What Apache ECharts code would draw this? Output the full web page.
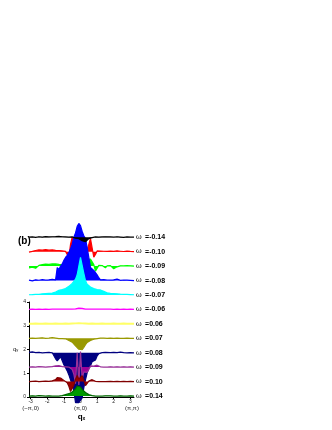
<!DOCTYPE html>
<html>
<head>
<meta charset="utf-8">
<script src="https://cdn.jsdelivr.net/npm/echarts@6/dist/echarts.min.js"></script>
<style>
  html, body { margin: 0; padding: 0; background: #fff; }
  #chart { width: 332px; height: 430px; }
</style>
</head>
<body>
<div id="chart"></div>
<script>
// momentum grid (q_x), shared by every curve
var qx = [-3.1,-2.9,-2.7,-2.5,-2.3,-2.1,-1.9,-1.7,
  -1.6,-1.5,-1.4,-1.3,-1.2,-1.1,-1.0,-0.9,-0.8,-0.7,-0.6,-0.5,-0.4,-0.3,-0.2,-0.1,
  0,0.1,0.2,0.3,0.4,0.5,0.6,0.7,0.8,0.9,1.0,1.1,1.2,1.3,1.4,1.5,1.6,
  1.8,2.0,2.2,2.4,2.6,2.8,3.0,3.22];

// upper panel, negative energies (amplitude about each baseline)
var wm014 = [0,0.02,-0.01,0.03,0.01,0.04,0.02,0.03,
  0.01,0.04,0.02,0.06,0.03,0.03,0.06,0.02,0.04,0.01,-0.03,0.02,-0.06,-0.07,0.03,-0.1,
  -0.14,-0.24,-0.28,-0.31,-0.24,-0.1,0.03,-0.03,0.06,0.02,0.03,0.01,0.03,0.02,0.01,0.03,0.01,
  0.02,0,0.03,0.01,-0.01,0.02,0,0];
var wm010 = [-0.03,0.02,0.08,0.12,0.1,0.14,0.1,0.12,
  0.13,0.09,0.12,0.08,0.1,0.05,0.06,0.02,-0.2,-0.38,0.5,1.0,0.15,0.05,0.08,0.05,
  0.05,0.05,0.06,0.1,0.1,0.2,0.9,0.95,-0.38,-0.2,0.05,0.08,0.04,0.06,0.03,0.05,0.02,
  0.04,0.02,0.05,0.03,0.01,0.04,0.02,0];
var wm009 = [-0.12,-0.08,-0.15,0.05,0.1,0.14,0.12,0.15,
  0.12,0.15,0.1,0.12,0.08,0.1,0.06,0.05,0.04,0.05,0.03,0.05,0.04,0.05,0.05,0.06,
  0.05,0.1,0.15,0.3,0.45,0.42,0.48,0.3,0.1,-0.35,-0.25,0.05,0.02,0.04,-0.05,-0.12,0.02,
  0.03,-0.18,-0.05,0.02,0.01,0.03,0.02,0];
var wm008 = [0.03,-0.02,0.05,0.02,0.06,0.03,0.05,0.08,
  0.03,0.05,0.9,0.75,1.0,1.15,1.4,1.6,1.75,1.95,2.2,2.5,3.0,3.3,3.75,3.95,
  3.8,3.4,3.1,2.9,2.3,1.6,0.9,0.8,0.7,0.55,0.4,0.2,0.05,0.03,0.06,0.02,0.04,
  0.03,0.05,0.1,0.02,0.04,0.03,0.02,0];
var wm007 = [0.02,0.03,0.05,0.05,0.08,0.1,0.12,0.14,
  0.15,0.2,0.3,0.32,0.35,0.38,0.4,0.45,0.5,0.6,0.7,0.8,0.95,1.1,1.4,2.0,
  2.6,2.5,1.5,1.0,0.75,0.65,0.55,0.5,0.45,0.42,0.38,0.36,0.35,0.3,0.25,0.2,0.15,
  0.12,0.1,0.08,0.06,0.05,0.04,0.03,0.02];

// lower panel
var wm006 = [0,0.01,0,0.01,0,0.01,0,0.01,
  0,0.01,0,0.01,0,0.01,0,0.01,0,0.01,0,0.01,0.01,0.02,0.03,0.05,
  0.06,0.04,0.02,0.01,0,0.01,0,0.01,0,0.01,0,0.01,0,0.01,0,0.01,0,
  0.01,0,0.01,0,0.01,0,0.01,0];
var wp006 = [0,0,0.01,0,0,0.01,0,0,
  0,0.01,0,0,0.01,0,0,0.01,0,0,0.01,0.01,0.02,0.02,0.03,0.03,
  0.03,0.02,0.02,0.01,0.01,0,0,0.01,0,0,0.01,0,0,0.01,0,0,0,
  0,0.01,0,0,0.01,0,0,0];
var wp007 = [0,0.01,0,0.01,0.02,0,0.01,0.03,
  0.04,0.01,0,-0.01,0,-0.01,-0.01,-0.02,-0.05,-0.09,-0.12,-0.16,-0.23,-0.32,-0.4,-0.46,
  -0.5,-0.48,-0.38,-0.27,-0.17,-0.12,-0.09,-0.07,-0.04,-0.02,-0.01,0,0.01,0,0.01,0,0,
  0.01,0,0.01,0,0,0.01,0,0];
var wp008 = [0.02,0.04,0.01,0.02,0,0.01,0.02,0,
  0,-0.25,-0.34,-0.3,-0.17,-0.21,-0.5,-0.63,-0.76,-0.93,-1.14,-1.35,-1.6,-2.1,-2.1,-2.1,
  -2.1,-1.9,-1.47,-1.14,-0.84,-0.67,-0.55,-0.38,-0.34,-0.3,-0.13,-0.04,0,0.01,0,0.02,0,
  0.01,0.02,0.01,0.03,0.01,0,0.01,0];
var wp009 = [0,0.01,0,0.02,0.01,0,0.01,0.02,
  0.04,0.05,0.03,0.06,0.04,0.02,0.03,0.01,0.02,0,0.05,-0.1,-0.3,-0.7,0.6,-0.75,
  0.65,-0.5,-0.2,-0.15,-0.22,-0.1,0.05,0.02,0.04,0.03,0.08,0.02,0.01,0.02,0,0.01,0,
  0.01,0,0.01,0,0.01,0,0.01,0];
var wp010 = [0,0.01,0.02,0,0.01,0.02,0.01,0.03,
  0.02,0.08,0.17,0.12,0.15,0.1,0.05,0.03,-0.05,-0.2,-0.42,-0.46,-0.15,0.1,0.25,0.1,
  0.15,0.25,0.05,-0.17,-0.08,0.02,0.05,0.08,0.03,0.01,0.02,0,0.01,0,0.01,0,0,
  0.01,0,0.01,0,0.01,0,0.01,0];
var wp014 = [0,0.01,0,0.02,0.01,0,0.01,0,
  0.01,0,0.01,0,0.01,0.02,0.04,0.06,0.08,0.1,0.13,0.17,0.22,0.3,0.42,0.46,
  0.38,0.28,0.2,0.15,0.1,0.06,0.04,0.02,0.01,0,0.01,0,0.01,0,0,0.01,0,
  0.01,0,0,0.01,0,0,0.01,0];

var topLabels = ['=-0.14','=-0.10','=-0.09','=-0.08','=-0.07'];
var botLabels = ['=-0.06','=0.06','=0.07','=0.08','=0.09','=0.10','=0.14'];
var xTicks = [-3,-2,-1,0,1,2,3];
var yTicks = [0,1,2,3,4];
var kLabels = {'-3':'(\u2212\u03c0,0)', '0':'(\u03c0,0)', '3.1':'(\u03c0,\u03c0)'};

var myChart = echarts.init(document.getElementById('chart'));

function curve(label, amp, base, color, fill, idx, z, lw) {
    return {
        type:'line',
        xAxisIndex:idx,
        yAxisIndex:idx,
        data:qx.map(function (x, i) { return [x, base + amp[i]]; }),
        symbol:'none',
        clip:false,
        z:z,
        lineStyle:{color:color, width:lw || 1.2},
        areaStyle:{color:fill, opacity:1, origin:base},
        endLabel:{
            show:true,
            distance:2,
            formatter:'{w|\u03c9} {t|' + label + '}',
            rich:{
                w:{fontFamily:'DejaVu Serif', fontSize:7, color:'#000'},
                t:{fontFamily:'Liberation Sans', fontSize:7, fontWeight:'bold', color:'#000'}
            }
        }
    };
}

var option = {
    animation:false,
    title:{
        text:'(b)',
        left:13,
        top:231,
        textStyle:{fontFamily:'Liberation Sans', fontSize:10, fontWeight:'bold', color:'#000'}
    },
    grid:[
        {left:29, top:222.75, width:105, height:79.5},
        {left:29, top:302, width:105, height:95}
    ],
    xAxis:[
        {gridIndex:0, type:'value', min:-3.1, max:3.22, show:false},
        {
            gridIndex:1, type:'value', min:-3.1, max:3.22, position:'bottom',
            axisLine:{onZero:false, lineStyle:{color:'#000', width:1}},
            axisTick:{length:2, customValues:xTicks, lineStyle:{color:'#000'}},
            axisLabel:{customValues:xTicks, fontSize:5, margin:2, color:'#222',
                fontFamily:'Liberation Sans'},
            splitLine:{show:false},
            name:'{q|q}{s|x}',
            nameLocation:'middle',
            nameGap:15,
            nameTextStyle:{rich:{
                q:{fontFamily:'Liberation Sans', fontSize:8, fontWeight:'bold', color:'#000'},
                s:{fontFamily:'Liberation Sans', fontSize:5, fontWeight:'bold', color:'#000',
                    verticalAlign:'bottom', padding:[4,0,0,0]}
            }}
        },
        {
            gridIndex:1, type:'value', min:-3.1, max:3.22, position:'bottom',
            axisLine:{show:false, onZero:false}, axisTick:{show:false}, splitLine:{show:false},
            axisLabel:{customValues:[-3,0,3.1], fontSize:6, margin:8, color:'#222',
                fontFamily:'Liberation Sans',
                formatter:function (v) { return kLabels[String(v)] || ''; }}
        }
    ],
    yAxis:[
        {gridIndex:0, type:'value', min:-0.5, max:5, show:false},
        {
            gridIndex:1, type:'value', min:0, max:4, interval:1, position:'left',
            axisLine:{show:true, onZero:false, lineStyle:{color:'#000', width:1}},
            axisTick:{show:true, length:2, customValues:yTicks, lineStyle:{color:'#000'}},
            axisLabel:{customValues:yTicks, fontSize:5, margin:3, color:'#222',
                fontFamily:'Liberation Sans'},
            splitLine:{show:false},
            name:'{q|q}{s|y}',
            nameLocation:'middle',
            nameGap:9,
            nameRotate:0,
            nameTextStyle:{rich:{
                q:{fontFamily:'Liberation Sans', fontSize:6, color:'#222'},
                s:{fontFamily:'Liberation Sans', fontSize:4, color:'#222'}
            }}
        }
    ],
    series:[
        curve(topLabels[1], wm010, 3, '#ff0000', '#ff0000', 0, 2),
        curve(topLabels[2], wm009, 2, '#00ff00', '#00ff00', 0, 2),
        curve(topLabels[3], wm008, 1, '#0000ff', '#0000ff', 0, 3),
        curve(topLabels[4], wm007, 0, '#00ffff', '#00ffff', 0, 4),
        curve(topLabels[0], wm014, 4, '#000000', '#000000', 0, 5),

        curve(botLabels[0], wm006, 3.69, '#ff00ff', '#ff00ff', 1, 2),
        curve(botLabels[1], wp006, 3.08, '#ffff66', '#ffff66', 1, 2, 2),
        curve(botLabels[2], wp007, 2.47, '#999900', '#999900', 1, 2),
        curve(botLabels[3], wp008, 1.86, '#000080', '#000080', 1, 3),
        curve(botLabels[4], wp009, 1.26, '#993399', '#990099', 1, 4),
        curve(botLabels[5], wp010, 0.65, '#800000', '#990000', 1, 5),
        curve(botLabels[6], wp014, 0.04, '#006600', '#009900', 1, 6)
    ]
};

myChart.setOption(option);
window.onresize = function () {
    myChart.resize();
};
</script>
</body>
</html>
